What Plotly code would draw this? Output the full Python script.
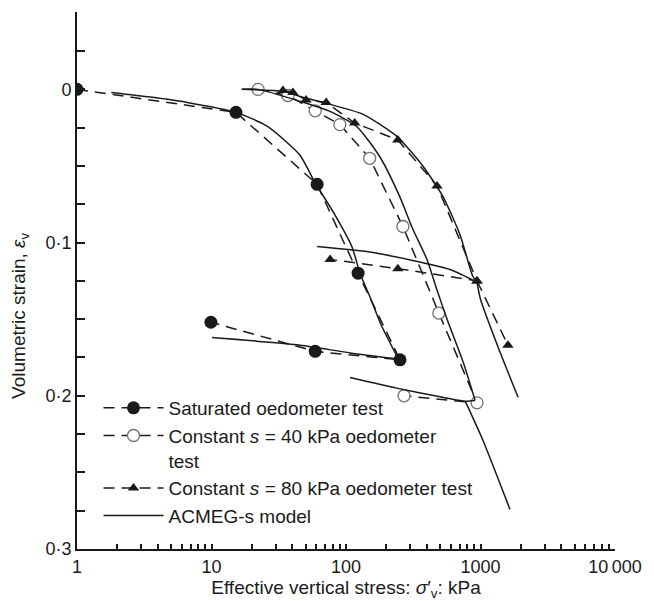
import plotly.graph_objects as go

# ---------------- data ----------------
# Saturated oedometer test (filled circles)
sat_load_x = [1, 15.2, 61, 123, 252]
sat_load_y = [0, 0.015, 0.062, 0.120, 0.1765]
sat_unl_x = [252, 59, 9.9]
sat_unl_y = [0.1765, 0.171, 0.152]

# Constant s = 40 kPa (open circles)
s40_load_x = [22.2, 37, 59, 90, 150, 265, 490, 942]
s40_load_y = [0, 0.004, 0.014, 0.023, 0.045, 0.0895, 0.146, 0.2046]
s40_unl_x = [942, 270]
s40_unl_y = [0.2046, 0.200]

# Constant s = 80 kPa (triangles)
s80_load_x = [34, 40.3, 50.5, 71.2, 116, 243, 475, 942]
s80_load_y = [0.0007, 0.002, 0.007, 0.0085, 0.022, 0.033, 0.063, 0.125]
s80_unl_x = [942, 243, 76.2]
s80_unl_y = [0.125, 0.117, 0.111]
s80_rel_x = [942, 1600]
s80_rel_y = [0.125, 0.167]

# ACMEG-s model curves
m_sat_load_x = [1.8, 3.5, 6.6, 15.2, 25.9, 45.5, 58.9, 80.3, 111, 127, 150, 183, 245]
m_sat_load_y = [0.002, 0.005, 0.0085, 0.015, 0.024, 0.043, 0.061, 0.080, 0.103, 0.120, 0.135, 0.154, 0.176]
m_sat_unl_x = [245, 107.5, 43.1, 10.1]
m_sat_unl_y = [0.176, 0.172, 0.1667, 0.162]

m40_load_x = [16.8, 22.2, 45.5, 76, 120, 178, 251, 315, 400, 475, 564, 743, 911]
m40_load_y = [0, 0, 0.0078, 0.0144, 0.0242, 0.0438, 0.070, 0.0915, 0.111, 0.131, 0.150, 0.178, 0.203]
m40_unl_x = [911, 770, 500, 239, 107]
m40_unl_y = [0.203, 0.2035, 0.2007, 0.195, 0.188]
m40_rel_x = [770, 1042, 1654]
m40_rel_y = [0.2035, 0.229, 0.274]

m80_load_x = [16.8, 34, 45.5, 76, 134, 239, 375, 526, 703, 876, 942]
m80_load_y = [0, 0.0013, 0.0046, 0.0098, 0.0163, 0.0307, 0.0503, 0.070, 0.0948, 0.122, 0.126]
m80_unl_x = [942, 594, 159, 61]
m80_unl_y = [0.126, 0.1176, 0.1065, 0.1026]
m80_rel_x = [942, 1000, 1375, 1904]
m80_rel_y = [0.126, 0.137, 0.170, 0.201]

x_major = [1, 10, 100, 1000, 10000]
x_major_text = ["1", "10", "100", "1000", "10\u2009000"]
y_major = [0, 0.1, 0.2, 0.3]
y_major_text = ["0", "0·1", "0·2", "0·3"]

x_title = "Effective vertical stress: <i>σ</i>′<sub>v</sub>: kPa"
y_title = "Volumetric strain, <i>ε</i><sub>v</sub>"


def join(*segs):
    out = []
    for i, s in enumerate(segs):
        if i:
            out.append(None)
        out.extend(s)
    return out


INK = "#1a1a1a"
FONT = "Liberation Sans, Arial, sans-serif"
DASH = "11px,7px"

fig = go.Figure()

fig.add_trace(go.Scatter(
    x=sat_load_x + sat_unl_x[1:], y=sat_load_y + sat_unl_y[1:],
    mode="lines+markers", name="Saturated oedometer test",
    line=dict(color=INK, width=1.5, dash=DASH),
    marker=dict(symbol="circle", size=13, color=INK),
    legendgroup="a"))

fig.add_trace(go.Scatter(
    x=s40_load_x + s40_unl_x[1:], y=s40_load_y + s40_unl_y[1:],
    mode="lines+markers",
    name="Constant <i>s</i> = 40 kPa oedometer<br>test",
    line=dict(color=INK, width=1.5, dash=DASH),
    marker=dict(symbol="circle", size=12, color="white",
                line=dict(color="#707070", width=1.3)),
    legendgroup="b"))

fig.add_trace(go.Scatter(
    x=join(s80_load_x + s80_unl_x[1:], s80_rel_x),
    y=join(s80_load_y + s80_unl_y[1:], s80_rel_y),
    mode="lines+markers",
    name="Constant <i>s</i> = 80 kPa oedometer test",
    line=dict(color=INK, width=1.5, dash=DASH),
    marker=dict(symbol="triangle-up", size=10, color=INK),
    legendgroup="c"))

fig.add_trace(go.Scatter(
    x=join(m_sat_load_x, m_sat_unl_x, m40_load_x, m40_unl_x, m40_rel_x,
           m80_load_x, m80_unl_x, m80_rel_x),
    y=join(m_sat_load_y, m_sat_unl_y, m40_load_y, m40_unl_y, m40_rel_y,
           m80_load_y, m80_unl_y, m80_rel_y),
    mode="lines", name="ACMEG-s model",
    line=dict(color=INK, width=1.5, shape="spline", smoothing=0.6),
    connectgaps=False, legendgroup="d"))

minor_x = [m * 10 ** d for d in range(4) for m in range(2, 10)]
minor_y = [-0.05, -0.025, 0.025, 0.05, 0.075, 0.125, 0.15, 0.175, 0.225, 0.25, 0.275]

fig.update_layout(
    width=654, height=601,
    margin=dict(l=77, r=39, t=12, b=52, autoexpand=False),
    paper_bgcolor="white", plot_bgcolor="white",
    font=dict(family=FONT, size=18, color=INK),
    showlegend=True,
    legend=dict(x=0.04, y=0.298, xanchor="left", yanchor="top",
                bgcolor="rgba(0,0,0,0)", itemwidth=60,
                traceorder="grouped", tracegroupgap=0, valign="top",
                font=dict(family=FONT, size=19, color=INK)),
    xaxis=dict(type="log", range=[0, 4], showgrid=False, zeroline=False,
               automargin=False,
               showline=True, linewidth=2, linecolor=INK,
               ticks="inside", ticklen=5, tickwidth=1.5, tickcolor=INK,
               tickmode="array", tickvals=x_major, ticktext=x_major_text,
               minor=dict(tickmode="array", tickvals=minor_x, ticks="inside",
                          ticklen=5, tickwidth=1.5, tickcolor=INK),
               title=dict(text=x_title, standoff=10, font=dict(size=19))),
    yaxis=dict(range=[0.3, -0.0505], showgrid=False, zeroline=False,
               automargin=False,
               showline=True, linewidth=2, linecolor=INK,
               ticks="inside", ticklen=8, tickwidth=1.5, tickcolor=INK,
               tickmode="array", tickvals=y_major, ticktext=y_major_text,
               minor=dict(tickmode="array", tickvals=minor_y, ticks="inside",
                          ticklen=8, tickwidth=1.5, tickcolor=INK)),
    annotations=[dict(text=y_title, textangle=-90, xref="paper", yref="paper",
                      x=-0.106, y=0.434, xanchor="center", yanchor="middle",
                      showarrow=False, font=dict(family=FONT, size=19, color=INK))],
)

fig.write_html("out.html")
